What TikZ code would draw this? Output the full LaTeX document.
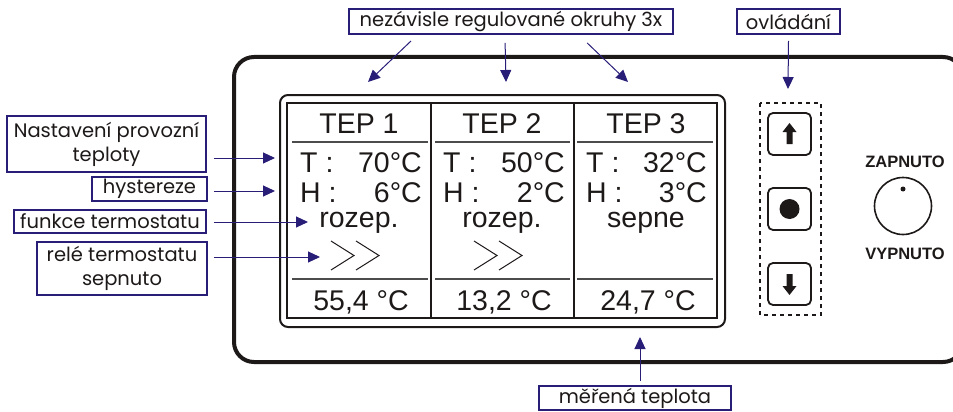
\documentclass[tikz,border=0pt]{standalone}
\usepackage{fontspec}
\setmainfont{Liberation Sans}
\newfontfamily\labelfont{Poppins}
\usetikzlibrary{arrows.meta,calc}
\definecolor{navy}{RGB}{40,30,120}
\definecolor{ink}{RGB}{30,25,25}

\begin{document}
\begin{tikzpicture}[x=1pt,y=-1pt,
    lbl/.style={draw=navy,line width=1.8pt,fill=white,inner sep=0pt,align=center,text=ink,
      font=\labelfont\fontsize{19.5}{24}\selectfont},
    lblarrow/.style={draw=navy,line width=1pt,-{Triangle[length=12pt,width=11pt]}},
    disp/.style={font=\fontsize{28.5}{30}\selectfont,text=ink,inner sep=0pt},
    sepline/.style={draw=gray!60!black,line width=1.1pt},
    knoblbl/.style={font=\bfseries\fontsize{16.5}{18}\selectfont,text=ink,inner sep=0pt},
    btn/.style={draw=ink,line width=1.8pt,rounded corners=5pt,minimum width=43pt,minimum height=42pt,inner sep=0pt}
  ]
    \clip (0,0) rectangle (953,412);

    % case of the regulator
    \draw[ink,line width=4pt,rounded corners=20pt] (234,57) rectangle (963,362);

    % display
    \draw[ink,line width=2pt,rounded corners=8pt] (280,95) rectangle (725,327);
    \draw[ink,line width=1.6pt] (287,103) rectangle (717,318);
    \draw[ink,line width=1.6pt] (431,103) -- (431,318);
    \draw[ink,line width=1.6pt] (574,103) -- (574,318);

    % three channels
    \foreach \i/\cx/\xa/\xb/\xl/\xr/\tv/\hv/\st/\mv in
      {1/359/292/428/300/422/70/6/rozep./{55,4},
       2/502/435/570/443/565/50/2/rozep./{13,2},
       3/646/577/713/586/707/32/3/sepne/{24,7}}{
      \node[disp,anchor=base] (tep\i) at (\cx,133) {TEP \i};
      \draw[sepline] (\xa,142) -- (\xb,142);
      \node[disp,anchor=base west] (tl\i) at (\xl,172) {T :};
      \node[disp,anchor=base east] (tv\i) at (\xr,172) {\tv°C};
      \node[disp,anchor=base west] (hl\i) at (\xl,202) {H :};
      \node[disp,anchor=base east] (hv\i) at (\xr,202) {\hv°C};
      \node[disp,anchor=base] (st\i) at (\cx,227) {\st};
      \draw[sepline] (\xa,279) -- (\xb,279);
      \node[disp,anchor=base] (mv\i) at (\cx+2,310) {\mv\ °C};
    }

    % relay symbol
    \foreach \x in {331,356,474,499}
      \draw[ink,line width=1pt] (\x,241) -- (\x+23,255.5) -- (\x,270);

    % control buttons
    \draw[ink,line width=1.5pt,dash pattern=on 4pt off 4pt] (760,103) rectangle (821,315);
    \node[btn] (up) at (789.5,134) {};
    \node[btn] (ok) at (789.5,209) {};
    \node[btn] (down) at (789.5,284) {};
    \begin{scope}[shift={(up.center)}]
      \fill[ink] (0,-11) -- (7,-2) -- (3,-2) -- (3,10) -- (-3,10) -- (-3,-2) -- (-7,-2) -- cycle;
    \end{scope}
    \fill[ink] (ok.center) circle (10pt);
    \begin{scope}[shift={(down.center)}]
      \fill[ink] (0,11) -- (7,2) -- (3,2) -- (3,-10) -- (-3,-10) -- (-3,2) -- (-7,2) -- cycle;
    \end{scope}

    % main switch
    \node[knoblbl] (zap) at (905,162) {ZAPNUTO};
    \node[knoblbl] (vyp) at (905,254) {VYPNUTO};
    \draw[ink,line width=1.6pt] (903,206) circle (28.5pt);
    \fill[ink] (903,189) circle (2.5pt);

    % labels
    \node[lbl,minimum width=324pt,minimum height=25pt] (nez) at (511,21.5) {nezávisle regulované okruhy 3x};
    \node[lbl,minimum width=103pt,minimum height=25pt] (ovl) at (788.5,21.5) {ovládání};
    \node[lbl,minimum width=199pt,minimum height=56pt] (nast) at (106.5,144) {Nastavení provozní\\teploty};
    \node[lbl,minimum width=115pt,minimum height=24pt] (hyst) at (149.5,189) {hystereze};
    \node[lbl,minimum width=192pt,minimum height=23pt] (funk) at (110,221.5) {funkce termostatu};
    \node[lbl,minimum width=170pt,minimum height=53pt] (rele) at (122,268.5) {relé termostatu\\sepnuto};
    \node[lbl,minimum width=192pt,minimum height=24pt] (mer) at (635,398) {měřená teplota};

    % arrow targets
    \coordinate (loop1) at (368,82);
    \coordinate (loop2) at (506,82);
    \coordinate (loop3) at (628,82);
    \coordinate (ctrl) at (788,89);
    \coordinate (tset) at (275,158);
    \coordinate (hset) at (275,191);
    \coordinate (fset) at (308,222);
    \coordinate (rset) at (320,257);
    \coordinate (meas) at (640,337);

    \draw[lblarrow] ($(nez.south west)+(63,6)$) -- (loop1);
    \draw[lblarrow] ($(nez.south west)+(157,8)$) -- (loop2);
    \draw[lblarrow] ($(nez.south west)+(239,8)$) -- (loop3);
    \draw[lblarrow] ($(ovl.south)+(0,6)$) -- (ctrl);
    \draw[lblarrow] ($(nast.east |- tset)+(7,0)$) -- (tset);
    \draw[lblarrow] ($(hyst.east)+(6,2)$) -- (hset);
    \draw[lblarrow] ($(funk.east)+(7,0.5)$) -- (fset);
    \draw[lblarrow] ($(rele.east |- rset)+(6,0)$) -- (rset);
    \draw[lblarrow] ($(mer.north)+(5,-4)$) -- (meas);
  \end{tikzpicture}
\end{document}
